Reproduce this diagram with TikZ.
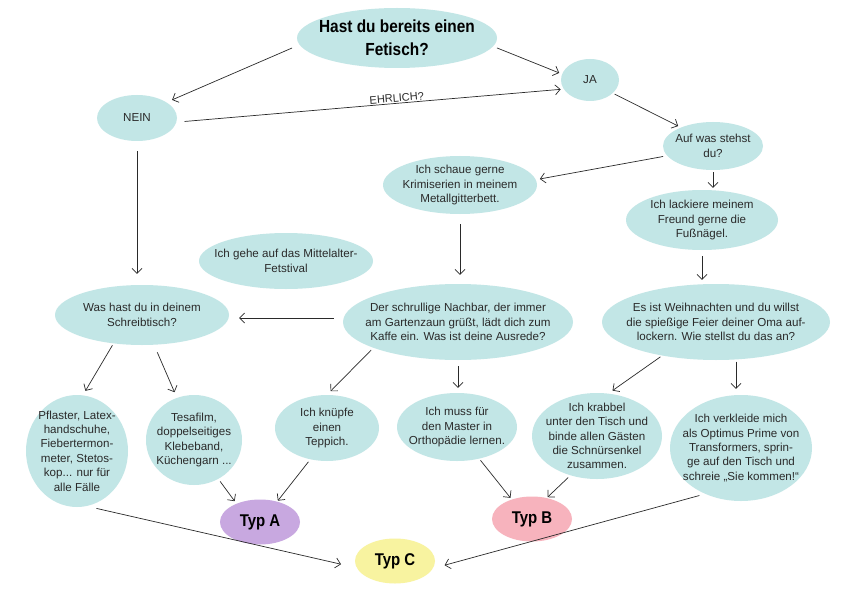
\documentclass[tikz,border=0pt]{standalone}
\usepackage{fontspec}
\setmainfont{Liberation Sans}
\newfontfamily\condbold{Liberation Sans Bold}[FakeStretch=0.88]
\usetikzlibrary{shapes.geometric,arrows.meta,calc}
\definecolor{teal1}{HTML}{C2E6E6}
\definecolor{typa}{HTML}{C8A8E0}
\definecolor{typb}{HTML}{F7B3BD}
\definecolor{typc}{HTML}{F8F3A0}
\definecolor{ink}{HTML}{2A2A2A}
\begin{document}
\begin{tikzpicture}[x=1pt,y=-1pt,
  bubble/.style={ellipse,fill=teal1,draw=none,inner sep=0pt},
  txt/.style={align=center,inner sep=0pt,font=\fontsize{11.6}{14.4}\selectfont,text=ink},
  ttl/.style={align=center,inner sep=0pt,font=\fontsize{17.5}{23}\selectfont\condbold,text=black},
  typ/.style={ellipse,draw=none,inner sep=0pt,minimum width=80pt,minimum height=45pt,
    font=\fontsize{17}{20}\selectfont\condbold,text=black},
  arr/.style={draw=ink,line width=0.7pt,-{Straight Barb[length=5pt,width=10pt]}}]
\useasboundingbox[fill=white] (0,0) rectangle (842,596);

\node[bubble,minimum width=200pt,minimum height=60pt,label={[ttl]center:{Hast du bereits einen\\Fetisch?}}] (top) at (397,38) {};
\node[bubble,minimum width=58pt,minimum height=42pt,label={[txt]center:{JA}}] (ja) at (590,80) {};
\node[bubble,minimum width=80pt,minimum height=46pt,label={[txt]center:{NEIN}}] (nein) at (137,118) {};
\node[bubble,minimum width=100pt,minimum height=48pt,label={[txt]center:{Auf was stehst\\du?}}] (auf) at (713,146) {};
\node[bubble,minimum width=154pt,minimum height=58pt,label={[txt]center:{Ich schaue gerne\\Krimiserien in meinem\\Metallgitterbett.}}] (krimi) at (460,185) {};
\node[bubble,minimum width=152pt,minimum height=60pt,label={[txt]center:{Ich lackiere meinem\\Freund gerne die\\Fußnägel.}}] (lack) at (702,220) {};
\node[bubble,minimum width=174pt,minimum height=56pt,label={[txt]center:{Ich gehe auf das Mittelalter-\\Fetstival}}] (mittel) at (286,261) {};
\node[bubble,minimum width=174pt,minimum height=60pt,label={[txt]center:{Was hast du in deinem\\Schreibtisch?}}] (was) at (142,315) {};
\node[bubble,minimum width=230pt,minimum height=76pt,label={[txt]center:{Der schrullige Nachbar, der immer\\am Gartenzaun grüßt, lädt dich zum\\Kaffe ein. Was ist deine Ausrede?}}] (nach) at (458,322) {};
\node[bubble,minimum width=228pt,minimum height=76pt,label={[txt]center:{Es ist Weihnachten und du willst\\die spießige Feier deiner Oma auf-\\lockern. Wie stellst du das an?}}] (weih) at (716,322) {};
\node[bubble,minimum width=102pt,minimum height=112pt,label={[txt]center:{Pflaster, Latex-\\handschuhe,\\Fiebertermon-\\meter, Stetos-\\kop... nur für\\alle Fälle}}] (pfl) at (77,451) {};
\node[bubble,minimum width=96pt,minimum height=90pt,label={[txt]center:{Tesafilm,\\doppelseitiges\\Klebeband,\\Küchengarn ...}}] (tesa) at (194,440) {};
\node[bubble,minimum width=104pt,minimum height=66pt,label={[txt]center:{Ich knüpfe\\einen\\Teppich.}}] (knu) at (327,428) {};
\node[bubble,minimum width=120pt,minimum height=68pt,label={[txt]center:{Ich muss für\\den Master in\\Orthopädie lernen.}}] (muss) at (457,427) {};
\node[bubble,minimum width=130pt,minimum height=86pt,label={[txt]center:{Ich krabbel\\unter den Tisch und\\binde allen Gästen\\die Schnürsenkel\\zusammen.}}] (krab) at (597,436) {};
\node[bubble,minimum width=142pt,minimum height=106pt,label={[txt]center:{Ich verkleide mich\\als Optimus Prime von\\Transformers, sprin-\\ge auf den Tisch und\\schreie „Sie kommen!“}}] (verk) at (741,448) {};
\node[typ,fill=typa] (ta) at (260,522) {Typ A};
\node[typ,fill=typb] (tb) at (532,519) {Typ B};
\node[typ,fill=typc] (tc) at (395,561) {Typ C};

\draw[arr,shorten <=8pt,shorten >=6pt] (top.184) -- (nein.28);
\draw[arr,shorten <=4pt,shorten >=3pt] (top.-5) -- (ja.168);
\draw[arr,shorten <=8pt,shorten >=3pt] (nein.-6) -- node[sloped,above,pos=0.57,font=\fontsize{11}{12}\selectfont,text=ink,inner sep=1pt] {EHRLICH?} (ja.199);
\draw[arr,shorten <=2pt,shorten >=3pt] (ja.-30) -- (auf.150);
\draw[arr,shorten <=4pt,shorten >=4pt] (auf.192) -- (krimi.4);
\draw[arr,shorten <=2pt,shorten >=2pt] (auf.south) -- (auf.south |- lack.north);
\draw[arr,shorten <=10pt,shorten >=9pt] (krimi.south) -- (krimi.south |- nach.north);
\draw[arr,shorten <=6pt,shorten >=4pt] (lack.south) -- (lack.south |- weih.north);
\draw[arr,shorten <=10pt,shorten >=11pt] (nein.south) -- (nein.south |- was.north);
\draw[arr,shorten <=9pt,shorten >=10pt] (nach.west |- 0,318) -- (was.east |- 0,318);
\draw[arr,shorten <=2pt,shorten >=5pt] (was.225) -- (pfl.84);
\draw[arr,shorten <=8pt,shorten >=6pt] (was.-68) -- (tesa.112);
\draw[arr,shorten <=3pt,shorten >=5pt] (nach.197) -- (knu.north);
\draw[arr,shorten <=6pt,shorten >=5pt] (nach.south) -- (nach.south |- muss.north);
\draw[arr,shorten <=2pt,shorten >=5pt] (weih.212) -- (krab.75);
\draw[arr,shorten <=2pt,shorten >=6pt] (weih.-62) -- (weih.-62 |- verk.north);
\draw[arr,shorten <=3pt,shorten >=3pt] (tesa.-58) -- (ta.142);
\draw[arr,shorten <=3pt,shorten >=1pt] (knu.-118) -- (ta.50);
\draw[arr,shorten <=2pt,shorten >=2pt] (muss.-55) -- (tb.136);
\draw[arr,shorten <=3pt,shorten >=1pt] (krab.236) -- (tb.55);
\draw[arr,shorten <=10pt,shorten >=16pt] (pfl.-80) -- (tc.190);
\draw[arr,shorten <=6pt,shorten >=12pt] (verk.232) -- (tc.-11);
\end{tikzpicture}
\end{document}
